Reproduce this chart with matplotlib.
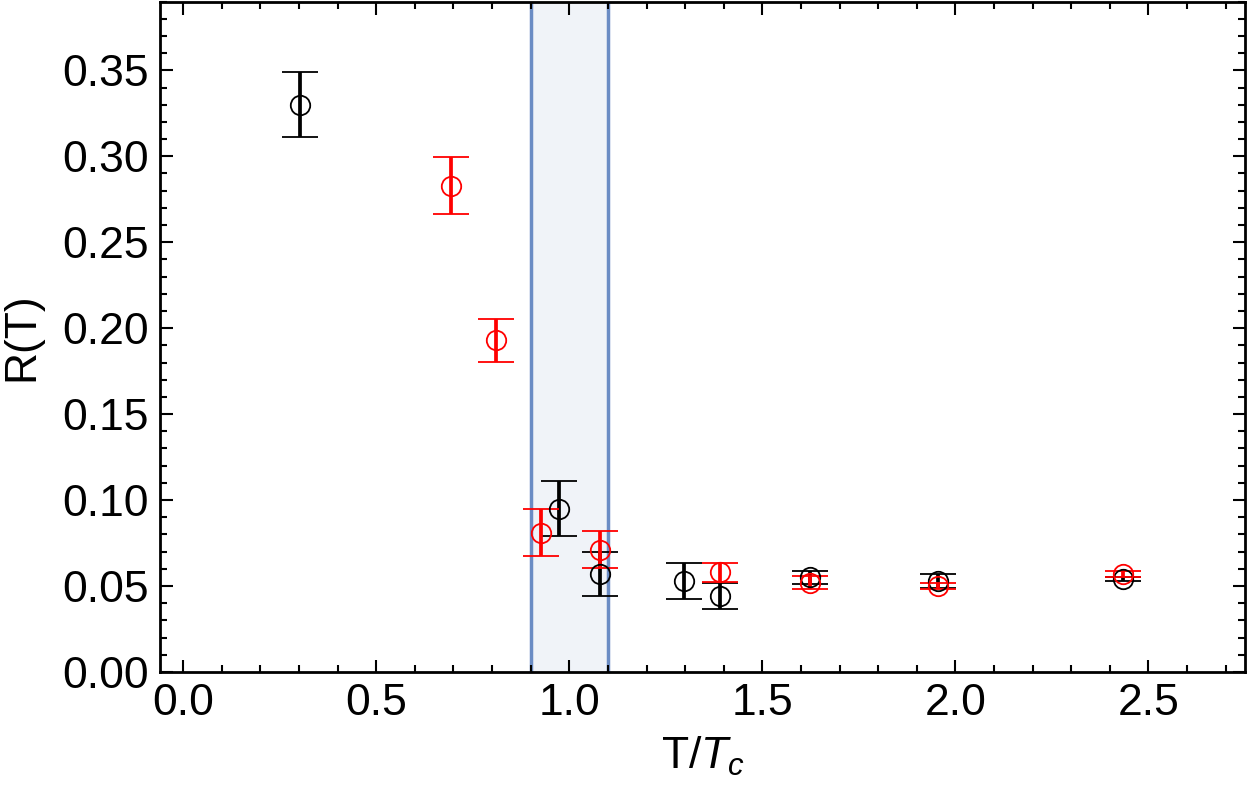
import matplotlib
matplotlib.use('Agg')
import matplotlib.pyplot as plt
from matplotlib.ticker import MultipleLocator

# black series
black_x = [0.303, 0.974, 1.080, 1.298, 1.390, 1.624, 1.956, 2.435]
black_y = [0.330, 0.095, 0.057, 0.053, 0.044, 0.055, 0.053, 0.054]
black_err = [0.019, 0.016, 0.013, 0.0105, 0.0075, 0.004, 0.004, 0.001]

# red series
red_x = [0.694, 0.811, 0.927, 1.080, 1.390, 1.624, 1.956, 2.435]
red_y = [0.283, 0.193, 0.081, 0.071, 0.058, 0.052, 0.050, 0.057]
red_err = [0.0165, 0.0125, 0.0137, 0.0107, 0.0055, 0.004, 0.002, 0.0015]

band = (0.9, 1.1)

plt.rcParams['font.family'] = ['Liberation Sans', 'DejaVu Sans']
plt.rcParams['mathtext.fontset'] = 'custom'
plt.rcParams['mathtext.it'] = 'Liberation Sans:italic'
plt.rcParams['mathtext.rm'] = 'Liberation Sans'

fig = plt.figure(figsize=(12.5, 7.98), dpi=100)
ax = fig.add_axes([0.128, 0.158, 0.868, 0.840])

ax.axvspan(band[0], band[1], color='#f0f3f8', zorder=0)
for b in band:
    ax.axvline(b, color='#6b8cc4', lw=2.5, zorder=1)

for xs, ys, es, col in [(black_x, black_y, black_err, 'black'),
                        (red_x, red_y, red_err, 'red')]:
    ax.errorbar(xs, ys, yerr=es, fmt='o', mfc='none', mec=col, ms=14,
                mew=1.3, ecolor=col, elinewidth=2.7, capsize=13, capthick=3.6,
                zorder=3)

ax.set_xlim(-0.06, 2.75)
ax.set_ylim(0, 0.39)
ax.xaxis.set_major_locator(MultipleLocator(0.5))
ax.xaxis.set_minor_locator(MultipleLocator(0.1))
ax.yaxis.set_major_locator(MultipleLocator(0.05))
ax.yaxis.set_minor_locator(MultipleLocator(0.01))
ax.xaxis.set_major_formatter(plt.FormatStrFormatter('%.1f'))
ax.yaxis.set_major_formatter(plt.FormatStrFormatter('%.2f'))

ax.tick_params(which='both', direction='in', top=True, right=True,
               labelsize=32, width=1.5)
ax.tick_params(which='major', length=9, pad=8)
ax.tick_params(which='minor', length=5)
for s in ax.spines.values():
    s.set_linewidth(2)

ax.set_xlabel('T/$T_c$', fontsize=32, labelpad=8)
ax.set_ylabel('R(T)', fontsize=32, labelpad=14)

fig.savefig('out.png', dpi=100)
